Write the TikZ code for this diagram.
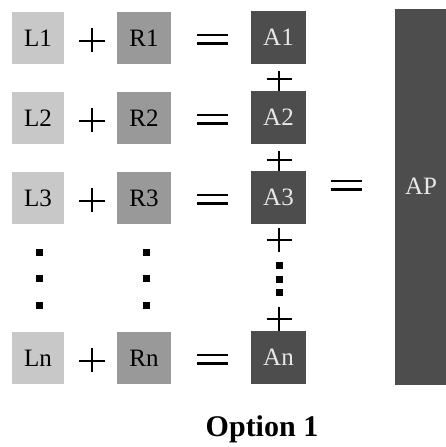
\documentclass[tikz,border=0pt]{standalone}
\usepackage{fontspec}
\setmainfont{Liberation Serif}
\definecolor{lgray}{RGB}{200,200,200}
\definecolor{rgray}{RGB}{153,153,153}
\definecolor{agray}{RGB}{77,77,77}
\definecolor{atext}{RGB}{232,232,232}
\begin{document}
\begin{tikzpicture}[x=1pt,y=-1pt,
  boxfont/.style={font=\fontsize{25}{25}\selectfont},
  lbox/.style={fill=lgray, minimum width=52pt, minimum height=52pt, inner sep=0pt, boxfont},
  rbox/.style={fill=rgray, minimum width=54pt, minimum height=52pt, inner sep=0pt, boxfont},
  abox/.style={fill=agray, minimum width=55pt, minimum height=53pt, inner sep=0pt, text=atext, boxfont},
  opline/.style={line width=2.3pt, black},
  eqline/.style={line width=2.8pt, black},
  dotmark/.style={fill=black, minimum size=7pt, inner sep=0pt},
]
\useasboundingbox (0,0) rectangle (446,447);
\fill[white] (0,0) rectangle (446,447);

% rows
\foreach \n/\y in {1/38,2/118,3/198,n/358}{
  \node[lbox] (L\n) at (38,\y) {L\n};
  \node[rbox] (R\n) at (144,\y) {R\n};
  \node[abox] (A\n) at (278.5,\y-0.5) {A\n};
  % plus
  \draw[opline] (79,\y+3) -- (105,\y+3) (92,\y-10) -- (92,\y+14);
  % equals
  \draw[eqline] (197,\y-3) -- (228,\y-3) (197,\y+5.5) -- (228,\y+5.5);
}

% big AP box
\node[fill=agray, minimum width=60pt, minimum height=376pt, inner sep=0pt, anchor=north west] (AP) at (395,9) {};
\node[text=atext, boxfont] (APt) at (421,186) {AP};

% big equals
\draw[eqline] (331,181) -- (362,181) (331,189.5) -- (362,189.5);

% pluses joining A boxes
\coordinate (p12) at (279,71);
\coordinate (p23) at (279,151);
\coordinate (p3d) at (279,228);
\coordinate (pdn) at (279,307);
\draw[opline] (266.5,79) -- (291.5,79);
\draw[opline] (p12) -- (A2.north -| p12);
\draw[opline] (266.5,160) -- (291.5,160);
\draw[opline] (p23) -- (A3.north -| p23);
\draw[opline] (266.5,240) -- (291.5,240) (p3d) -- (279,252);
\draw[opline] (266.5,319) -- (291.5,319);
\draw[opline] (pdn) -- (An.north -| pdn);

% vertical dots
\foreach \y [count=\k] in {252,278.5,305}{
  \node[dotmark] (dl\k) at (39,\y) {};
  \node[dotmark] (dr\k) at (146.5,\y) {};
}
\foreach \y [count=\k] in {265,279,292}{
  \node[dotmark] (dm\k) at (279,\y) {};
}

% caption
\node[font=\fontsize{30}{30}\selectfont\bfseries] (cap) at (262,429) {Option 1};
\end{tikzpicture}
\end{document}
